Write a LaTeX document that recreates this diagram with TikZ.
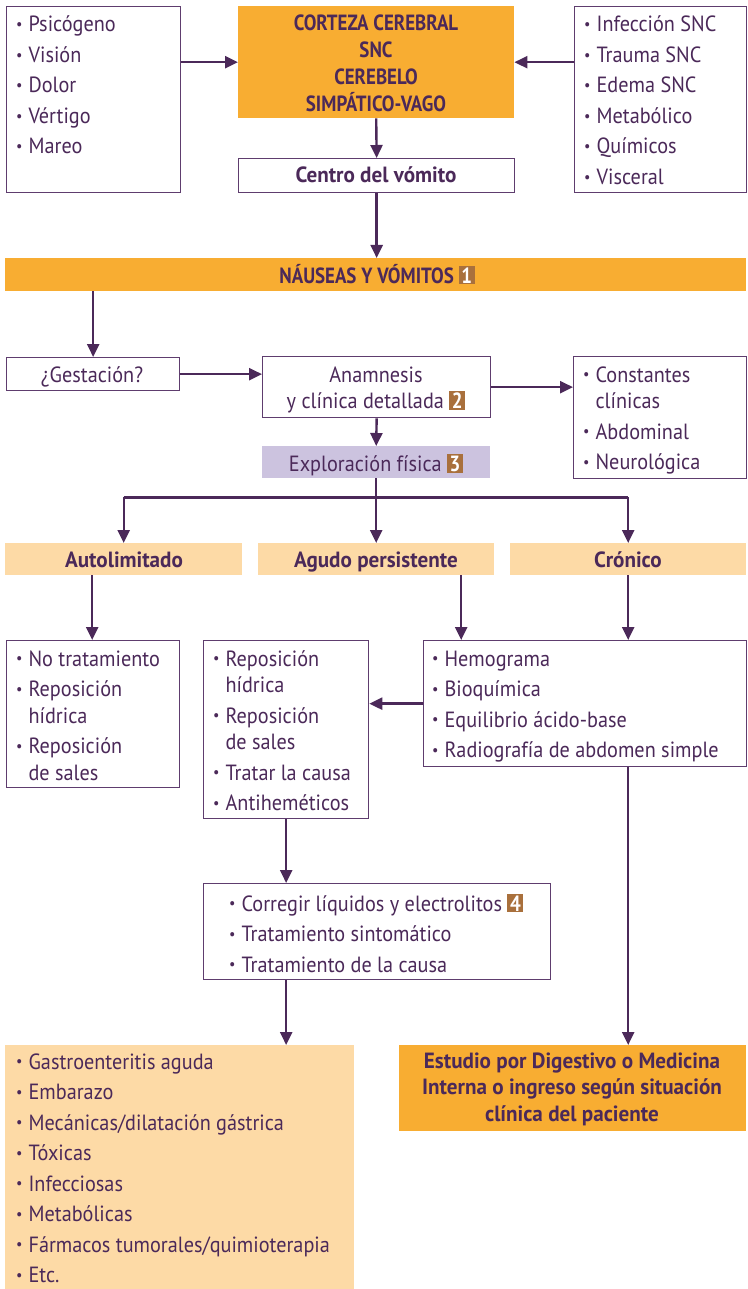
\documentclass[tikz,border=0pt]{standalone}
\usepackage{fontspec}
\setmainfont{PT Sans}[FakeStretch=0.92, BoldFeatures={FakeStretch=0.96}]
\newfontfamily\capsfont{PT Sans}[FakeStretch=0.92, BoldFeatures={FakeStretch=0.86}]
\usetikzlibrary{arrows.meta}

\definecolor{ink}{HTML}{4B2959}
\definecolor{edge}{HTML}{5E3D6E}
\definecolor{orangefill}{HTML}{F8AD32}
\definecolor{paleorange}{HTML}{FDDAA6}
\definecolor{palepurple}{HTML}{CCC3DF}
\definecolor{badgecol}{HTML}{A9703C}

% numbered reference badge
\newcommand\badge[1]{{\capsfont\setlength\fboxsep{1.4pt}\colorbox{badgecol}{\hspace{1.2pt}\textcolor{white}{\bfseries #1}\hspace{1.2pt}}}}
% small list bullet
\newcommand\bul{\raisebox{0.22ex}{\scalebox{0.7}{\textbullet}}}
% continuation line inside a bullet item
\newcommand\cont{\\[-4pt]}

\begin{document}
\begin{tikzpicture}[x=1pt,y=-1pt,
  every node/.style={text=ink, font=\fontsize{22}{30.5}\selectfont},
  box/.style={draw=edge, line width=1.3pt, fill=white, inner sep=0pt, anchor=north west},
  solid orange/.style={fill=orangefill, inner sep=0pt, anchor=north west},
  pale orange/.style={fill=paleorange, inner sep=0pt, anchor=north west},
  pale purple/.style={fill=palepurple, inner sep=0pt, anchor=north west},
  listtext/.style={inner sep=0pt, anchor=base west, align=left},
  centertext/.style={inner sep=0pt, anchor=base},
  heading/.style={inner sep=0pt, anchor=base, font=\fontsize{22}{26.8}\selectfont\bfseries},
  capsheading/.style={heading, font=\fontsize{22}{26.8}\selectfont\capsfont\bfseries},
  flow/.style={draw=ink, line width=2.4pt, -{Triangle[length=13pt,width=12pt]}},
  plain/.style={draw=ink, line width=2.4pt}
]
\useasboundingbox (0,0) rectangle (747,1289);

% ---------- boxes ----------
\node[box, minimum width=174pt, minimum height=186pt] (lbox) at (6,6) {};
\node[solid orange, minimum width=276pt, minimum height=112pt] (top) at (238,6) {};
\node[box, minimum width=276pt, minimum height=34pt] (centro) at (238,158) {};
\node[box, minimum width=172pt, minimum height=186pt] (rbox) at (574,6) {};
\node[solid orange, minimum width=741pt, minimum height=33pt] (nau) at (5,258) {};
\node[box, minimum width=173pt, minimum height=33pt] (gest) at (6,357) {};
\node[box, minimum width=228pt, minimum height=61pt] (anam) at (262,356) {};
\node[box, minimum width=173pt, minimum height=122pt] (cons) at (573,356) {};
\node[pale purple, minimum width=228pt, minimum height=32pt] (expl) at (262,446) {};
\node[pale orange, minimum width=237pt, minimum height=32pt] (auto) at (5,543) {};
\node[pale orange, minimum width=236pt, minimum height=32pt] (agudo) at (258,543) {};
\node[pale orange, minimum width=236pt, minimum height=32pt] (cron) at (510,543) {};
\node[box, minimum width=173pt, minimum height=147pt] (lmid) at (6,640) {};
\node[box, minimum width=165pt, minimum height=178pt] (cmid) at (203,640) {};
\node[box, minimum width=323pt, minimum height=126pt] (rmid) at (423,640) {};
\node[box, minimum width=347pt, minimum height=96pt] (corr) at (203,883) {};
\node[pale orange, minimum width=349pt, minimum height=245pt] (bl) at (5,1045) {};
\node[solid orange, minimum width=347pt, minimum height=86pt] (br) at (399,1045) {};

% ---------- texts ----------
\node[listtext] (lbox-t) at (16,32) {\begin{tabular}[t]{@{}l@{\hspace{6pt}}l@{}}
  \bul & Psicógeno\\ \bul & Visión\\ \bul & Dolor\\ \bul & Vértigo\\ \bul & Mareo
\end{tabular}};
\node[capsheading] (top-t) at (376,30.7) {\begin{tabular}[t]{@{}c@{}}
  CORTEZA CEREBRAL\\ SNC\\ CEREBELO\\ SIMPÁTICO-VAGO
\end{tabular}};
\node[heading] (centro-t) at (376,183) {Centro del vómito};
\node[listtext] (rbox-t) at (584,32) {\begin{tabular}[t]{@{}l@{\hspace{6pt}}l@{}}
  \bul & Infección SNC\\ \bul & Trauma SNC\\ \bul & Edema SNC\\ \bul & Metabólico\\ \bul & Químicos\\ \bul & Visceral
\end{tabular}};
\node[capsheading] (nau-t) at (377,283) {NÁUSEAS Y VÓMITOS \badge{1}};
\node[centertext] (gest-t) at (92,382) {¿Gestación?};
\node[centertext] (anam-t) at (376,382) {\begin{tabular}[t]{@{}c@{}}
  Anamnesis\\[-4pt] y clínica detallada \badge{2}
\end{tabular}};
\node[listtext] (cons-t) at (583,382) {\begin{tabular}[t]{@{}l@{\hspace{6pt}}l@{}}
  \bul & Constantes\cont & clínicas\\ \bul & Abdominal\\ \bul & Neurológica
\end{tabular}};
\node[centertext] (expl-t) at (376,471) {Exploración física \badge{3}};
\node[heading] (auto-t) at (124,567) {Autolimitado};
\node[heading] (agudo-t) at (376,567) {Agudo persistente};
\node[heading] (cron-t) at (628,567) {Crónico};
\node[listtext] (lmid-t) at (16,666) {\begin{tabular}[t]{@{}l@{\hspace{6pt}}l@{}}
  \bul & No tratamiento\\ \bul & Reposición\cont & hídrica\\ \bul & Reposición\cont & de sales
\end{tabular}};
\node[listtext] (cmid-t) at (213,666) {\begin{tabular}[t]{@{}l@{\hspace{6pt}}l@{}}
  \bul & Reposición\cont & hídrica\\ \bul & Reposición\cont & de sales\\ \bul & Tratar la causa\\ \bul & Antiheméticos
\end{tabular}};
\node[listtext] (rmid-t) at (432,666) {\begin{tabular}[t]{@{}l@{\hspace{6pt}}l@{}}
  \bul & Hemograma\\ \bul & Bioquímica\\ \bul & Equilibrio ácido-base\\ \bul & Radiografía de abdomen simple
\end{tabular}};
\node[listtext] (corr-t) at (229,911) {\begin{tabular}[t]{@{}l@{\hspace{6pt}}l@{}}
  \bul & Corregir líquidos y electrolitos \badge{4}\\ \bul & Tratamiento sintomático\\ \bul & Tratamiento de la causa
\end{tabular}};
\node[listtext] (bl-t) at (16,1069) {\begin{tabular}[t]{@{}l@{\hspace{6pt}}l@{}}
  \bul & Gastroenteritis aguda\\ \bul & Embarazo\\ \bul & Mecánicas/dilatación gástrica\\ \bul & Tóxicas\\
  \bul & Infecciosas\\ \bul & Metabólicas\\ \bul & Fármacos tumorales/quimioterapia\\ \bul & Etc.
\end{tabular}};
\node[heading] (br-t) at (572,1068) {\begin{tabular}[t]{@{}c@{}}
  Estudio por Digestivo o Medicina\\ Interna o ingreso según situación\\ clínica del paciente
\end{tabular}};

% ---------- connectors ----------
\draw[flow] (lbox.east |- top.west) -- (top.west);
\draw[flow] (rbox.west |- top.east) -- (top.east);
\draw[flow] (top.south) -- (centro.north);
\draw[flow] (centro.south) -- (centro.south |- nau.north);
\draw[flow] (gest.north |- nau.south) -- (gest.north);
\draw[flow] (gest.east) -- (gest.east -| anam.west);
\draw[flow] (anam.east) -- (anam.east -| cons.west);
\draw[flow] (anam.south) -- (expl.north);
\coordinate (split) at ([yshift=-19pt]expl.south);
\draw[plain] (expl.south) -- (split);
\draw[plain] (auto.north |- split) -- (cron.north |- split);
\draw[flow] (auto.north |- split) -- (auto.north);
\draw[flow] (split) -- (agudo.north);
\draw[flow] (cron.north |- split) -- (cron.north);
\draw[flow] ([xshift=-31.5pt]auto.south) -- ([xshift=-31.5pt]auto.south |- lmid.north);
\draw[flow] ([xshift=85pt]agudo.south) -- ([xshift=85pt]agudo.south |- rmid.north);
\draw[flow] (cron.south) -- (cron.south |- rmid.north);
\draw[flow] (rmid.west) -- (rmid.west -| cmid.east);
\draw[flow] (cmid.south) -- (cmid.south |- corr.north);
\draw[flow] (cmid.south |- corr.south) -- (cmid.south |- bl.north);
\draw[flow] (cron.south |- rmid.south) -- (cron.south |- br.north);
\end{tikzpicture}
\end{document}
